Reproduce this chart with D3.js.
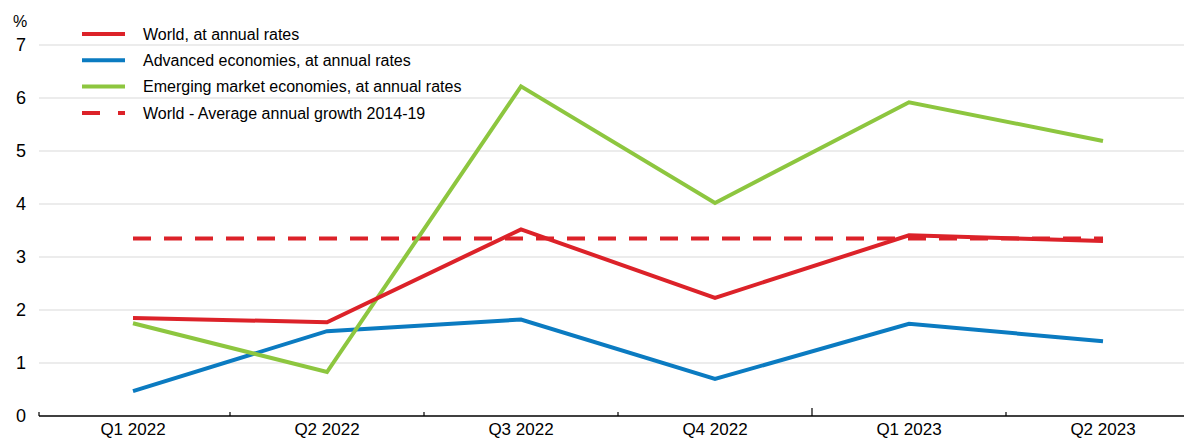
<!DOCTYPE html>
<html><head><meta charset="utf-8">
<script src="https://cdn.jsdelivr.net/npm/d3@7"></script>
<style>body{margin:0;background:#fff;} text{font-family:"Liberation Sans",Arial,sans-serif;fill:#000;}</style>
</head><body>
<svg id="c" width="1184" height="439"></svg>
<script>
const categories = ["Q1 2022","Q2 2022","Q3 2022","Q4 2022","Q1 2023","Q2 2023"];
const world = [1.85,1.77,3.52,2.23,3.41,3.30];
const advanced = [0.47,1.60,1.82,0.70,1.74,1.41];
const emerging = [1.75,0.83,6.22,4.02,5.92,5.19];
const worldAvg = [3.35,3.35,3.35,3.35,3.35,3.35];
const yTicks = [0,1,2,3,4,5,6,7];
const seriesNames = ["World, at annual rates","Advanced economies, at annual rates","Emerging market economies, at annual rates","World - Average annual growth 2014-19"];

const RED="#dc2229", BLUE="#0b7bc1", GREEN="#8dc63f";
const svg = d3.select("#c");
const x = d3.scaleBand().domain(categories).range([36,1200]).padding(0);
const y = d3.scaleLinear().domain([0,7]).range([416,45]);
const L = 39, R = 1184;

// gridlines
svg.append("g").selectAll("line").data(yTicks.filter(d=>d>0)).join("line")
  .attr("x1",L).attr("x2",R).attr("y1",d=>y(d)).attr("y2",d=>y(d))
  .attr("stroke","#d9d9d9").attr("stroke-width",1);

// y labels
svg.append("g").selectAll("text").data(yTicks).join("text")
  .attr("x",26).attr("y",d=>y(d)).attr("dy","0.36em").attr("text-anchor","end")
  .style("font-size","18px").text(d=>d);
svg.append("text").attr("x",20).attr("y",27).attr("text-anchor","middle").style("font-size","16px").text("%");

// x axis
const xa = svg.append("g").attr("transform","translate(0,416)");
xa.append("line").attr("x1",L).attr("x2",R).attr("y1",0).attr("y2",0).attr("stroke","#000").attr("stroke-width",1.5);
const bounds = categories.slice(1).map(c=>x(c));
xa.selectAll("line.tk").data([L].concat(bounds)).join("line").attr("class","tk")
  .attr("x1",d=>d).attr("x2",d=>d).attr("y1",0).attr("y2",(d,i)=>i===4?-8:-4)
  .attr("stroke","#000").attr("stroke-width",1.2);
xa.selectAll("text").data(categories).join("text")
  .attr("x",d=>x(d)+x.bandwidth()/2).attr("y",19).attr("text-anchor","middle")
  .style("font-size","17px").text(d=>d);

const line = d3.line().x((d,i)=>x(categories[i])+x.bandwidth()/2).y(d=>y(d));
function draw(data,color,dash){
  const p = svg.append("path").datum(data).attr("d",line).attr("fill","none")
    .attr("stroke",color).attr("stroke-width",4).attr("stroke-linejoin","miter");
  if(dash) p.attr("stroke-dasharray",dash);
}
draw(worldAvg,RED,"18,13");
draw(advanced,BLUE);
draw(emerging,GREEN);
draw(world,RED);

// legend
const leg = [[RED,null],[BLUE,null],[GREEN,null],[RED,"18,18"]];
const lg = svg.append("g");
leg.forEach((d,i)=>{
  const yy = 34 + i*26.3;
  const l = lg.append("line").attr("x1",82).attr("x2",125).attr("y1",yy).attr("y2",yy)
    .attr("stroke",d[0]).attr("stroke-width",4);
  if(d[1]) l.attr("stroke-dasharray",d[1]);
  lg.append("text").attr("x",143).attr("y",yy).attr("dy","0.36em").style("font-size","16px").text(seriesNames[i]);
});
</script>
</body></html>
